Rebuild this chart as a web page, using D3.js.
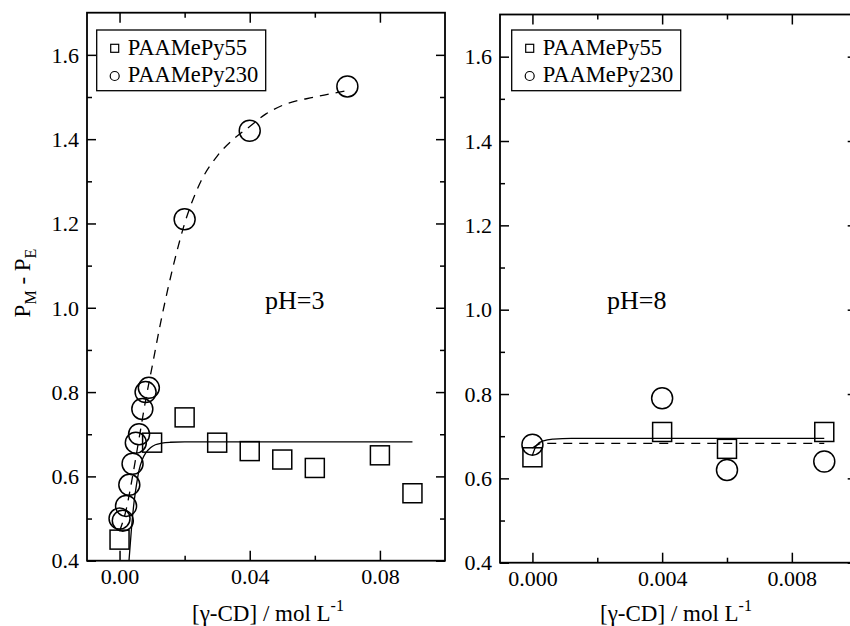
<!DOCTYPE html>
<html><head><meta charset="utf-8">
<script src="https://cdn.jsdelivr.net/npm/d3@7"></script>
<style>
body{margin:0;background:#fff}
svg{display:block}
text{font-family:"Liberation Serif","Times New Roman",serif;fill:#000}
</style>
</head><body>
<svg id="c" width="850" height="626"></svg>
<script>
// ---------- data ----------
const seriesNames = ["PAAMePy55", "PAAMePy230"];
const panelLabels = ["pH=3", "pH=8"];
const yTicks = [0.4, 0.6, 0.8, 1.0, 1.2, 1.4, 1.6];
const yMinor = [0.5, 0.7, 0.9, 1.1, 1.3, 1.5];
const xTicksL = [0.00, 0.04, 0.08];
const xMinorL = [0.02, 0.06];
const xTicksR = [0.000, 0.004, 0.008];
const xMinorR = [0.002, 0.006];

// pH = 3 panel
const ph3_55_x  = [0, 0.01, 0.02, 0.03, 0.04, 0.05, 0.06, 0.08, 0.09];
const ph3_55_y  = [0.45, 0.68, 0.74, 0.68, 0.66, 0.64, 0.62, 0.65, 0.56];
const ph3_230_x = [0, 0.001, 0.002, 0.003, 0.004, 0.005, 0.006, 0.007, 0.008, 0.009, 0.02, 0.04, 0.07];
const ph3_230_y = [0.50, 0.495, 0.53, 0.58, 0.63, 0.68, 0.70, 0.76, 0.80, 0.81, 1.21, 1.42, 1.525];
// fitted curves
const ph3_fit55_x  = [0.0029, 0.0036, 0.0044, 0.0052, 0.0060, 0.0070, 0.0080, 0.0095, 0.011, 0.013, 0.0156, 0.02, 0.09];
const ph3_fit55_y  = [0.40, 0.47, 0.535, 0.58, 0.615, 0.64, 0.655, 0.668, 0.675, 0.679, 0.681, 0.682, 0.682];
const ph3_fit230_x = [0, 0.002, 0.004, 0.006, 0.008, 0.010, 0.0125, 0.015, 0.0175, 0.02, 0.025, 0.03, 0.035, 0.04, 0.045, 0.05, 0.06, 0.07];
const ph3_fit230_y = [0.47, 0.52, 0.60, 0.69, 0.78, 0.86, 0.96, 1.05, 1.13, 1.20, 1.30, 1.36, 1.40, 1.43, 1.46, 1.48, 1.50, 1.515];

// pH = 8 panel
const ph8_55_x  = [0, 0.004, 0.006, 0.009];
const ph8_55_y  = [0.65, 0.71, 0.67, 0.71];
const ph8_230_x = [0, 0.004, 0.006, 0.009];
const ph8_230_y = [0.68, 0.79, 0.62, 0.64];
const ph8_fit55_x  = [0, 0.00013, 0.00034, 0.00065, 0.0012, 0.009];
const ph8_fit55_y  = [0.655, 0.679, 0.689, 0.693, 0.695, 0.695];
const ph8_fit230_x = [0, 0.0003, 0.009];
const ph8_fit230_y = [0.672, 0.683, 0.683];

// ---------- drawing ----------
const svg = d3.select("#c");
const zip = (xs, ys) => xs.map((x, i) => ({x, y: ys[i]}));

const panels = [
  {xd: [-0.01, 0.1], xr: [87, 445], yr: [560.7, 12.7], xt: xTicksL, xm: xMinorL, fmt: d3.format(".2f"),
   s55: zip(ph3_55_x, ph3_55_y), s230: zip(ph3_230_x, ph3_230_y),
   f55: zip(ph3_fit55_x, ph3_fit55_y), f230: zip(ph3_fit230_x, ph3_fit230_y),
   label: panelLabels[0], lx: 265, ly: 309, legX: 96.7, titleX: 268},
  {xd: [-0.001, 0.01], xr: [500, 856.7], yr: [562.7, 14.5], xt: xTicksR, xm: xMinorR, fmt: d3.format(".3f"),
   s55: zip(ph8_55_x, ph8_55_y), s230: zip(ph8_230_x, ph8_230_y),
   f55: zip(ph8_fit55_x, ph8_fit55_y), f230: zip(ph8_fit230_x, ph8_fit230_y),
   label: panelLabels[1], lx: 607, ly: 309, legX: 511.7, titleX: 676}
];

panels.forEach(p => {
  const x = d3.scaleLinear().domain(p.xd).range(p.xr);
  const y = d3.scaleLinear().domain([0.4, 1.7]).range(p.yr);
  const [x0, x1] = p.xr, [y1, y0] = p.yr;
  const g = svg.append("g");

  // fitted curves
  const line = d3.line().x(d => x(d.x)).y(d => y(d.y)).curve(d3.curveMonotoneX);
  g.append("path").datum(p.f55).attr("d", line)
    .attr("fill", "none").attr("stroke", "#000").attr("stroke-width", 1.3);
  g.append("path").datum(p.f230).attr("d", line)
    .attr("fill", "none").attr("stroke", "#000").attr("stroke-width", 1.3)
    .attr("stroke-dasharray", "9,7");

  // markers
  const sq = 19;
  g.selectAll("rect.m55").data(p.s55).join("rect").attr("class", "m55")
    .attr("x", d => x(d.x) - sq/2).attr("y", d => y(d.y) - sq/2)
    .attr("width", sq).attr("height", sq)
    .attr("fill", "none").attr("stroke", "#000").attr("stroke-width", 1.5);
  g.selectAll("circle.m230").data(p.s230).join("circle").attr("class", "m230")
    .attr("cx", d => x(d.x)).attr("cy", d => y(d.y)).attr("r", 10.5)
    .attr("fill", "none").attr("stroke", "#000").attr("stroke-width", 1.5);

  // axes (ticks inward)
  const ax = g.append("g");
  const bot = ax.append("g").attr("transform", `translate(0,${y1})`)
    .call(d3.axisBottom(x).tickValues(p.xt).tickFormat(p.fmt).tickSize(-10).tickPadding(0));
  bot.selectAll("text").attr("y", 23).attr("dy", 0).style("font-size", "22px");
  ax.append("g").attr("transform", `translate(0,${y1})`)
    .call(d3.axisBottom(x).tickValues(p.xm).tickFormat("").tickSize(-5));
  ax.append("g").attr("transform", `translate(0,${y0})`)
    .call(d3.axisTop(x).tickValues(p.xt).tickFormat("").tickSize(-10));
  ax.append("g").attr("transform", `translate(0,${y0})`)
    .call(d3.axisTop(x).tickValues(p.xm).tickFormat("").tickSize(-5));
  const lft = ax.append("g").attr("transform", `translate(${x0},0)`)
    .call(d3.axisLeft(y).tickValues(yTicks).tickFormat(d3.format(".1f")).tickSize(-9).tickPadding(8));
  lft.selectAll("text").style("font-size", "22px").attr("dy", "0.33em");
  ax.append("g").attr("transform", `translate(${x0},0)`)
    .call(d3.axisLeft(y).tickValues(yMinor).tickFormat("").tickSize(-5));
  ax.append("g").attr("transform", `translate(${x1},0)`)
    .call(d3.axisRight(y).tickValues(yTicks).tickFormat("").tickSize(-9));
  ax.append("g").attr("transform", `translate(${x1},0)`)
    .call(d3.axisRight(y).tickValues(yMinor).tickFormat("").tickSize(-5));
  ax.selectAll(".domain").remove();
  ax.selectAll(".tick line").attr("stroke", "#000").attr("stroke-width", 1.5);
  ax.selectAll("text").attr("font-family", null).attr("font-size", null);

  // frame
  g.append("rect").attr("x", x0).attr("y", y0).attr("width", x1 - x0).attr("height", y1 - y0)
    .attr("fill", "none").attr("stroke", "#000").attr("stroke-width", 1.8);

  // legend
  const lg = g.append("g").attr("transform", `translate(${p.legX},30)`);
  lg.append("rect").attr("width", 169).attr("height", 60.7)
    .attr("fill", "#fff").attr("stroke", "#000").attr("stroke-width", 1.3);
  lg.append("rect").attr("x", 18 - 4).attr("y", 18.3 - 4).attr("width", 8).attr("height", 8)
    .attr("fill", "none").attr("stroke", "#000").attr("stroke-width", 1.2);
  lg.append("circle").attr("cx", 18).attr("cy", 46).attr("r", 4.5)
    .attr("fill", "none").attr("stroke", "#000").attr("stroke-width", 1.2);
  lg.append("text").attr("x", 31).attr("y", 25).style("font-size", "22.5px").text(seriesNames[0]);
  lg.append("text").attr("x", 31).attr("y", 52).style("font-size", "22.5px").text(seriesNames[1]);

  // panel label
  g.append("text").attr("x", p.lx).attr("y", p.ly).style("font-size", "26px").text(p.label);

  // x title
  const xt = g.append("text").attr("x", p.titleX).attr("y", 621).attr("text-anchor", "middle").style("font-size", "23px");
  xt.append("tspan").text("[γ-CD] / mol L");
  xt.append("tspan").attr("dy", -10).style("font-size", "16px").text("-1");
});

// y title
const yt = svg.append("text").attr("transform", "translate(30,283) rotate(-90)")
  .attr("text-anchor", "middle").style("font-size", "23px");
yt.append("tspan").text("P");
yt.append("tspan").attr("dy", 6).style("font-size", "16px").text("M");
yt.append("tspan").attr("dy", -6).text(" - P");
yt.append("tspan").attr("dy", 6).style("font-size", "16px").text("E");
</script>
</body></html>
